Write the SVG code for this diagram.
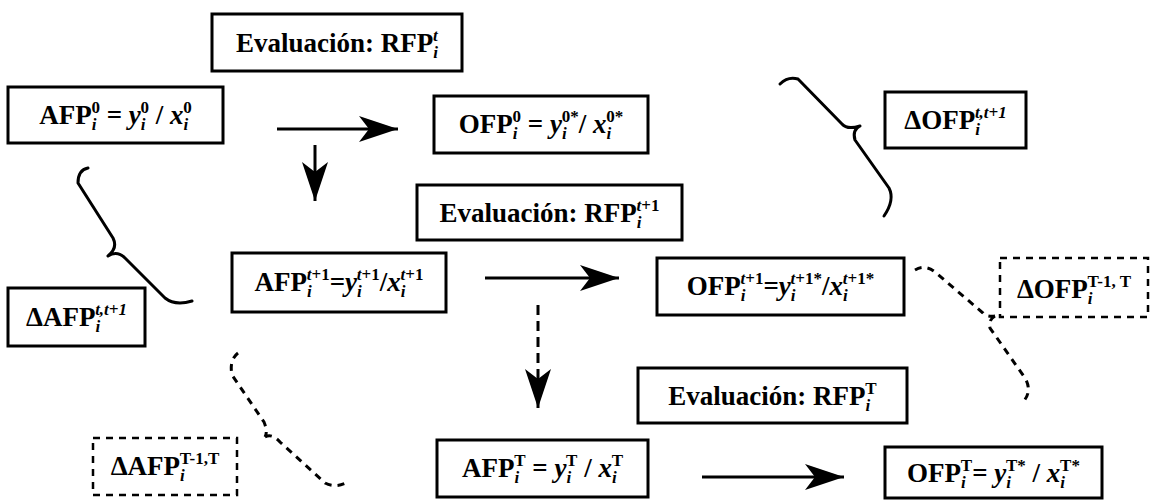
<svg xmlns="http://www.w3.org/2000/svg" width="1156" height="501" viewBox="0 0 1156 501">
<style>
.box{fill:#fff;stroke:#000;stroke-width:3}
.dbox{fill:#fff;stroke:#000;stroke-width:2.5;stroke-dasharray:7 6}
.t{font-family:"Liberation Serif","Times New Roman",serif;font-weight:bold;font-size:27px;fill:#000;text-anchor:middle}
.sb{font-size:17px;font-style:italic}
.sp{font-size:17px}
.it{font-style:italic}
.ln{stroke:#000;stroke-width:3;fill:none}
.dl{stroke:#000;stroke-width:3;fill:none;stroke-dasharray:10 6}
.br{stroke:#000;stroke-width:3;fill:none;stroke-linecap:round;stroke-linejoin:round}
.dbr{stroke:#000;stroke-width:3;fill:none;stroke-dasharray:7 6}
</style>
<defs>
<marker id="ah" markerUnits="userSpaceOnUse" markerWidth="42" markerHeight="32" refX="40" refY="16" orient="auto"><path d="M40,16 L1,3 L11,16 L1,29 Z" fill="#000"/></marker>
</defs>
<rect width="1156" height="501" fill="#fff"/>
<g id="connectors">
<line class="ln" x1="277" y1="129" x2="398" y2="129" marker-end="url(#ah)"/>
<line class="ln" x1="315" y1="145" x2="315" y2="201" marker-end="url(#ah)"/>
<line class="ln" x1="485" y1="278" x2="619" y2="278" marker-end="url(#ah)"/>
<line class="dl" x1="538" y1="305" x2="538" y2="408" marker-end="url(#ah)"/>
<line class="ln" x1="702" y1="477" x2="844" y2="477" marker-end="url(#ah)"/>
<path class="br" d="M780,84 Q788,76 798,79 L842,124 Q847,130 860,126 M860,126 Q852,130 855,140 L889,188 Q895,200 884,216"/>
<path class="br" d="M88,168 Q78,170 78,183 L113,238 Q118,248 108,256 M108,256 Q117,250 125,258 L165,298 Q175,306 192,301"/>
<path class="dbr" d="M915,270 Q925,264 935,272 L983,313 Q986,317 995,316 M995,316 Q988,320 990,328 L1025,378 Q1033,392 1022,403"/>
<path class="dbr" d="M238,353 Q229,360 232,375 L264,422 Q268,432 265,437 M265,437 Q272,433 280,442 L325,483 Q335,488 346,483"/>
</g>
<g id="eval1"><rect class="box" x="212" y="14" width="250" height="57"/><text class="t" x="337" y="52">Evaluación: RFP<tspan class="sb" dy="6">i</tspan><tspan class="sp it" dx="-5" dy="-17">t</tspan></text></g>
<g id="afp0"><rect class="box" x="8" y="87" width="215" height="56"/><text class="t" x="115.5" y="124">AFP<tspan class="sb" dy="6">i</tspan><tspan class="sp" dx="-5" dy="-17">0</tspan><tspan dy="11"> = </tspan><tspan class="it">y</tspan><tspan class="sb" dy="6">i</tspan><tspan class="sp" dx="-5" dy="-17">0</tspan><tspan dy="11"> / </tspan><tspan class="it">x</tspan><tspan class="sb" dy="6">i</tspan><tspan class="sp" dx="-5" dy="-17">0</tspan></text></g>
<g id="ofp0"><rect class="box" x="434" y="96" width="214" height="57"/><text class="t" x="541" y="133">OFP<tspan class="sb" dy="6">i</tspan><tspan class="sp" dx="-5" dy="-17">0</tspan><tspan dy="11"> = </tspan><tspan class="it">y</tspan><tspan class="sb" dy="6">i</tspan><tspan class="sp" dx="-5" dy="-17">0*</tspan><tspan dy="11">/ </tspan><tspan class="it">x</tspan><tspan class="sb" dy="6">i</tspan><tspan class="sp" dx="-5" dy="-17">0*</tspan></text></g>
<g id="dofp_tt1"><rect class="box" x="885" y="92" width="141" height="56"/><text class="t" x="955.5" y="129">ΔOFP<tspan class="sb" dy="6">i</tspan><tspan class="sp it" dx="-5" dy="-17">t,t+1</tspan></text></g>
<g id="eval2"><rect class="box" x="417" y="185" width="265" height="55"/><text class="t" x="549.5" y="222">Evaluación: RFP<tspan class="sb" dy="6">i</tspan><tspan class="sp" dx="-5" dy="-17"><tspan class="it">t</tspan>+1</tspan></text></g>
<g id="afp_t1"><rect class="box" x="232" y="253" width="214" height="59"/><text class="t" x="339" y="291">AFP<tspan class="sb" dy="6">i</tspan><tspan class="sp" dx="-5" dy="-17"><tspan class="it">t</tspan>+1</tspan><tspan dy="11">=</tspan><tspan class="it">y</tspan><tspan class="sb" dy="6">i</tspan><tspan class="sp" dx="-5" dy="-17"><tspan class="it">t</tspan>+1</tspan><tspan dy="11">/</tspan><tspan class="it">x</tspan><tspan class="sb" dy="6">i</tspan><tspan class="sp" dx="-5" dy="-17"><tspan class="it">t</tspan>+1</tspan></text></g>
<g id="ofp_t1"><rect class="box" x="657" y="258" width="247" height="57"/><text class="t" x="780.5" y="295">OFP<tspan class="sb" dy="6">i</tspan><tspan class="sp" dx="-5" dy="-17"><tspan class="it">t</tspan>+1</tspan><tspan dy="11">=</tspan><tspan class="it">y</tspan><tspan class="sb" dy="6">i</tspan><tspan class="sp" dx="-5" dy="-17"><tspan class="it">t</tspan>+1*</tspan><tspan dy="11">/</tspan><tspan class="it">x</tspan><tspan class="sb" dy="6">i</tspan><tspan class="sp" dx="-5" dy="-17"><tspan class="it">t</tspan>+1*</tspan></text></g>
<g id="dafp_tt1"><rect class="box" x="8" y="288" width="137" height="58"/><text class="t" x="76.5" y="326">ΔAFP<tspan class="sb" dy="6">i</tspan><tspan class="sp it" dx="-5" dy="-17">t,t+1</tspan></text></g>
<g id="dofp_T"><rect class="dbox" x="1000" y="258" width="148" height="59"/><text class="t" x="1074" y="298">ΔOFP<tspan class="sb" dy="6">i</tspan><tspan class="sp" dx="-5" dy="-17">T-1, T</tspan></text></g>
<g id="eval3"><rect class="box" x="638" y="368" width="269" height="55"/><text class="t" x="772.5" y="405">Evaluación: RFP<tspan class="sb" dy="6">i</tspan><tspan class="sp" dx="-5" dy="-17">T</tspan></text></g>
<g id="dafp_T"><rect class="dbox" x="93" y="438" width="144" height="57"/><text class="t" x="165" y="475">ΔAFP<tspan class="sb" dy="6">i</tspan><tspan class="sp" dx="-5" dy="-17">T-1,T</tspan></text></g>
<g id="afp_T"><rect class="box" x="437" y="440" width="211" height="57"/><text class="t" x="542.5" y="477">AFP<tspan class="sb" dy="6">i</tspan><tspan class="sp" dx="-5" dy="-17">T</tspan><tspan dy="11"> = </tspan><tspan class="it">y</tspan><tspan class="sb" dy="6">i</tspan><tspan class="sp" dx="-5" dy="-17">T</tspan><tspan dy="11"> / </tspan><tspan class="it">x</tspan><tspan class="sb" dy="6">i</tspan><tspan class="sp" dx="-5" dy="-17">T</tspan></text></g>
<g id="ofp_T"><rect class="box" x="885" y="447" width="217" height="51"/><text class="t" x="993.5" y="482">OFP<tspan class="sb" dy="6">i</tspan><tspan class="sp" dx="-5" dy="-17">T</tspan><tspan dy="11">= </tspan><tspan class="it">y</tspan><tspan class="sb" dy="6">i</tspan><tspan class="sp" dx="-5" dy="-17">T*</tspan><tspan dy="11"> / </tspan><tspan class="it">x</tspan><tspan class="sb" dy="6">i</tspan><tspan class="sp" dx="-5" dy="-17">T*</tspan></text></g>
</svg>
